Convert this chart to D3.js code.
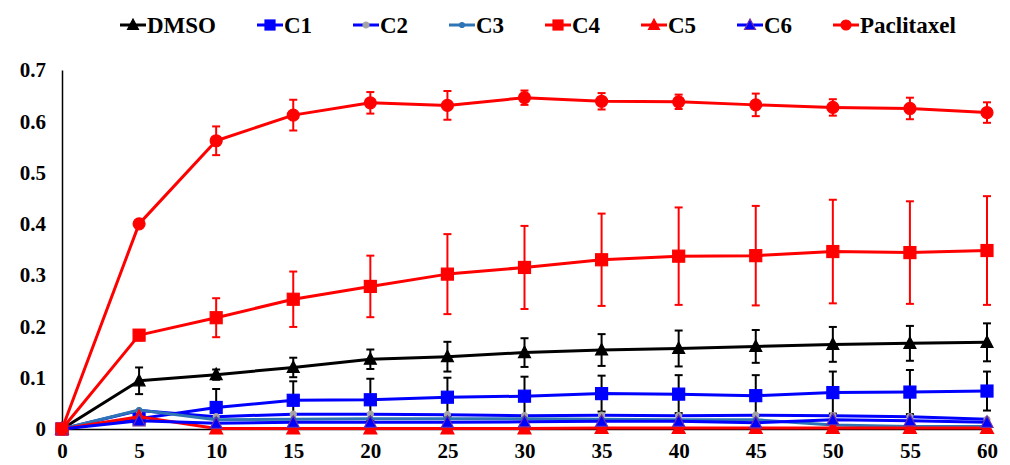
<!DOCTYPE html>
<html>
<head>
<meta charset="utf-8">
<title>Time course</title>
<script src="https://cdn.jsdelivr.net/npm/d3@7/dist/d3.min.js"></script>
<style>
* { margin: 0; padding: 0; }
body { background: #fff; }
</style>
</head>
<body>
<svg width="1010" height="465" id="chart"></svg>
<script>
// minutes
var times = [0, 5, 10, 15, 20, 25, 30, 35, 40, 45, 50, 55, 60];
var yTicks = [0, 0.1, 0.2, 0.3, 0.4, 0.5, 0.6, 0.7];

var dmso      = [0, 0.094, 0.106, 0.120, 0.136, 0.141, 0.149, 0.154, 0.157, 0.161, 0.165, 0.167, 0.169];
var dmsoErr   = [0, 0.026, 0.010, 0.019, 0.019, 0.029, 0.028, 0.031, 0.035, 0.032, 0.034, 0.034, 0.037];
var c1        = [0, 0.020, 0.042, 0.056, 0.057, 0.062, 0.064, 0.069, 0.068, 0.065, 0.071, 0.072, 0.074];
var c1Err     = [0, 0.012, 0.036, 0.037, 0.041, 0.038, 0.038, 0.035, 0.037, 0.040, 0.041, 0.043, 0.038];
var c2        = [0, 0.036, 0.024, 0.029, 0.029, 0.028, 0.026, 0.027, 0.026, 0.027, 0.026, 0.024, 0.019];
var c3        = [0, 0.037, 0.018, 0.019, 0.020, 0.020, 0.020, 0.019, 0.018, 0.018, 0.008, 0.005, 0.005];
var c4        = [0, 0.183, 0.217, 0.253, 0.278, 0.302, 0.315, 0.330, 0.337, 0.338, 0.346, 0.344, 0.348];
var c4Err     = [0, 0.010, 0.038, 0.054, 0.060, 0.078, 0.081, 0.090, 0.095, 0.097, 0.101, 0.100, 0.106];
var c5        = [0, 0.024, 0.001, 0.001, 0.001, 0.001, 0.001, 0.002, 0.002, 0.002, 0.002, 0.002, 0.002];
var c6        = [0, 0.016, 0.011, 0.013, 0.013, 0.013, 0.014, 0.015, 0.015, 0.012, 0.018, 0.016, 0.013];
var pacli     = [0, 0.400, 0.562, 0.612, 0.636, 0.631, 0.646, 0.639, 0.638, 0.632, 0.627, 0.625, 0.617];
var pacliErr  = [0, 0.006, 0.028, 0.030, 0.021, 0.028, 0.014, 0.016, 0.014, 0.022, 0.016, 0.021, 0.020];

var series = [
	{name: "DMSO", values: dmso, err: dmsoErr, line: "#000", errColor: "#000", shape: "triangle", fill: "#000", stroke: "#000", size: 11},
	{name: "C1", values: c1, err: c1Err, line: "#0000ff", errColor: "#000", shape: "square", fill: "#0000ff", stroke: "#0000ff", size: 12},
	{name: "C2", values: c2, err: null, line: "#0000ff", shape: "circle", fill: "#a5a5a5", stroke: "#a5a5a5", size: 6},
	{name: "C3", values: c3, err: null, line: "#2e75b6", shape: "circle", fill: "#2e75b6", stroke: "#2e75b6", size: 5},
	{name: "C4", values: c4, err: c4Err, line: "#ff0000", errColor: "#ff0000", shape: "square", fill: "#ff0000", stroke: "#ff0000", size: 12},
	{name: "C5", values: c5, err: null, line: "#ff0000", shape: "triangle", fill: "#ff0000", stroke: "#ff0000", size: 12},
	{name: "C6", values: c6, err: null, line: "#0000ff", shape: "triangle", fill: "#0000ff", stroke: "#7030a0", size: 11},
	{name: "Paclitaxel", values: pacli, err: pacliErr, line: "#ff0000", errColor: "#ff0000", shape: "circle", fill: "#ff0000", stroke: "#ff0000", size: 12}
];

var FONT = '"Liberation Serif", Tinos, "Times New Roman", Times, "Nimbus Roman", "DejaVu Serif", serif';

var svg = d3.select("#chart");
var x = d3.scaleLinear().domain([0, 60]).range([62, 987]);
var y = d3.scaleLinear().domain([0, 0.7]).range([429, 70]);

function marker(sel, s) {
	var h = s.size / 2;
	if (s.shape === "circle") {
		sel.append("circle").attr("r", h);
	} else if (s.shape === "square") {
		sel.append("rect").attr("x", -h).attr("y", -h).attr("width", s.size).attr("height", s.size);
	} else {
		sel.append("path").attr("d", "M0," + (-h - 1) + "L" + (h + 0.5) + "," + (h - 0.5) + "L" + (-h - 0.5) + "," + (h - 0.5) + "Z");
	}
	sel.selectAll("*").attr("fill", s.fill).attr("stroke", s.stroke).attr("stroke-width", 1.2);
}

// axes
var yAxis = svg.append("g").attr("transform", "translate(62,0)")
	.call(d3.axisLeft(y).tickValues(yTicks).tickSize(0).tickPadding(16)
		.tickFormat(function(d) { return d === 0 ? "0" : d3.format(".1f")(d); }));
yAxis.attr("font-family", null);
yAxis.select(".domain").attr("stroke", "#000").attr("stroke-width", 1.5);
yAxis.selectAll("text").style("font-size", "21px").attr("fill", "#000")
	.style("font-family", FONT).style("font-weight", "bold");

var xAxis = svg.append("g").attr("transform", "translate(0,429)")
	.call(d3.axisBottom(x).tickValues(times).tickSize(0).tickPadding(14));
xAxis.attr("font-family", null);
xAxis.select(".domain").attr("stroke", "#000").attr("stroke-width", 1.5);
xAxis.selectAll("text").style("font-size", "21px").attr("fill", "#000")
	.style("font-family", FONT).style("font-weight", "bold");

var line = d3.line()
	.x(function(d, i) { return x(times[i]); })
	.y(function(d) { return y(d); });

series.forEach(function(s) {
	var g = svg.append("g");
	if (s.err) {
		var eb = g.append("g").attr("stroke", s.errColor).attr("stroke-width", 2);
		s.values.forEach(function(v, i) {
			var e = s.err[i];
			if (!e) return;
			var xi = x(times[i]);
			eb.append("line").attr("x1", xi).attr("x2", xi).attr("y1", y(v - e)).attr("y2", y(v + e));
			eb.append("line").attr("x1", xi - 4).attr("x2", xi + 4).attr("y1", y(v - e)).attr("y2", y(v - e));
			eb.append("line").attr("x1", xi - 4).attr("x2", xi + 4).attr("y1", y(v + e)).attr("y2", y(v + e));
		});
	}
	g.append("path").datum(s.values).attr("fill", "none").attr("stroke", s.line)
		.attr("stroke-width", 3).attr("stroke-linejoin", "round").attr("d", line);
	s.values.forEach(function(v, i) {
		var m = g.append("g").attr("transform", "translate(" + x(times[i]) + "," + y(v) + ")");
		marker(m, s);
	});
});

// legend
var legendX = [120, 257, 353, 449, 545, 641, 737, 833];
var leg = svg.append("g").attr("transform", "translate(0,25)");
series.forEach(function(s, i) {
	var it = leg.append("g").attr("transform", "translate(" + legendX[i] + ",0)");
	it.append("line").attr("x1", 0).attr("x2", 26).attr("y1", 0).attr("y2", 0)
		.attr("stroke", s.line).attr("stroke-width", 3);
	var m = it.append("g").attr("transform", "translate(13,0)");
	var ms = Object.assign({}, s, {size: Math.min(s.size, 10)});
	marker(m, ms);
	it.append("text").attr("x", 27).attr("y", 8).style("font-size", "23px").attr("fill", "#000")
		.style("font-family", FONT).style("font-weight", "bold").text(s.name);
});
</script>
</body>
</html>
